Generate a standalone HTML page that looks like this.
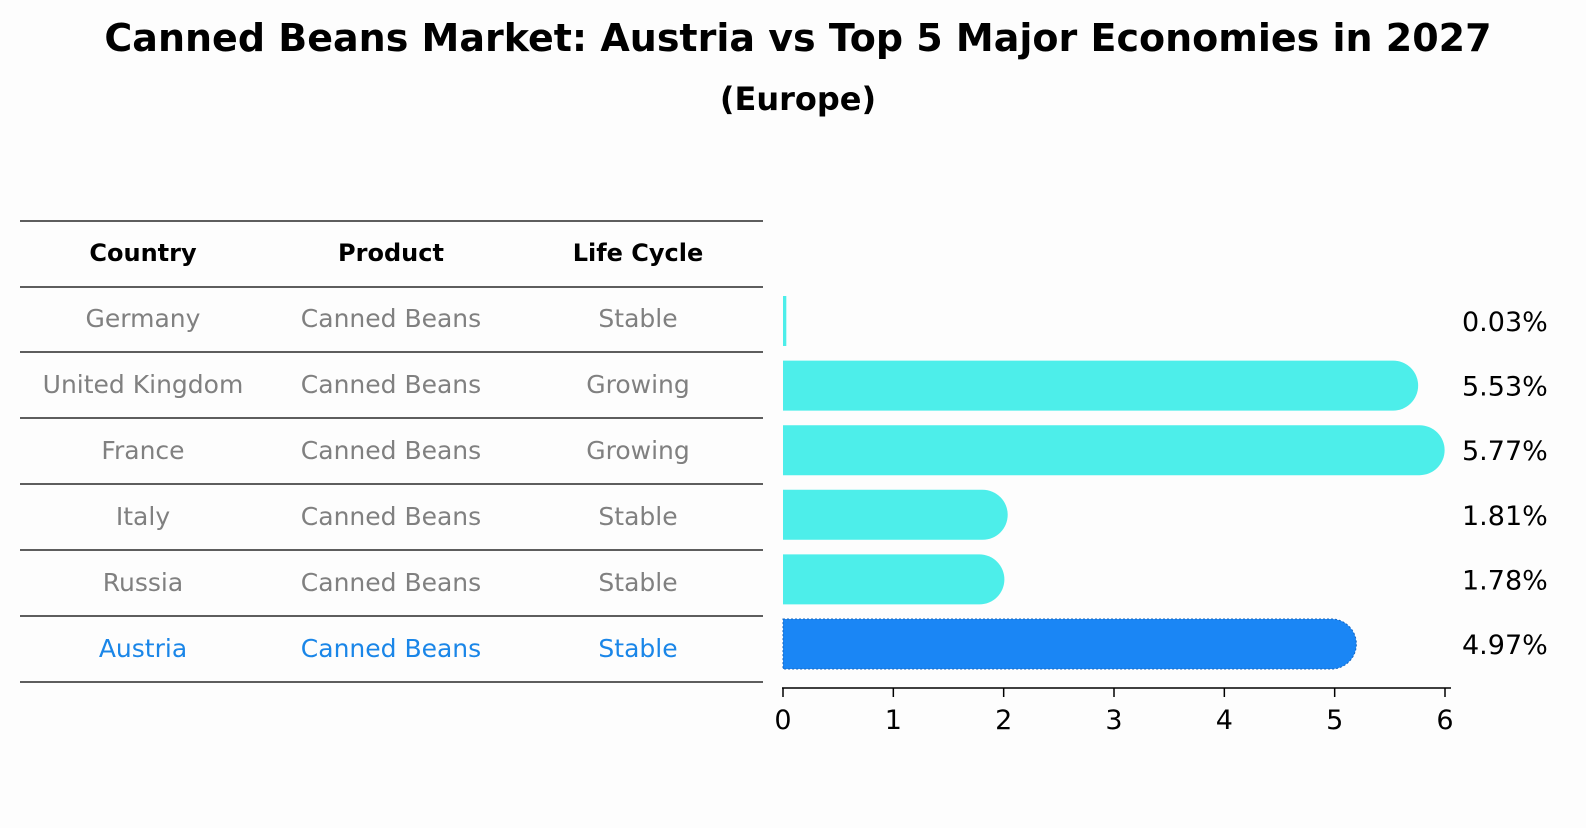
<!DOCTYPE html>
<html><head><meta charset="utf-8"><style>
body{margin:0;background:#fdfdfd;width:1586px;height:823px;overflow:hidden;font-family:"Liberation Sans","DejaVu Sans",sans-serif}
</style></head><body>
<svg width="1586" height="823" xmlns="http://www.w3.org/2000/svg" id="svg" font-family="DejaVu Sans, Liberation Sans, sans-serif">
<text x="798" y="51" text-anchor="middle" font-size="38" font-weight="bold">Canned Beans Market: Austria vs Top 5 Major Economies in 2027</text>
<text x="798" y="110" text-anchor="middle" font-size="32" font-weight="bold">(Europe)</text>
<g id="table"></g>
<g id="bars"></g>
</svg>
<script>
const countries=["Germany","United Kingdom","France","Italy","Russia","Austria"];
const products=["Canned Beans","Canned Beans","Canned Beans","Canned Beans","Canned Beans","Canned Beans"];
const lifeCycles=["Stable","Growing","Growing","Stable","Stable","Stable"];
const values=[0.03,5.53,5.77,1.81,1.78,4.97];
const ticks=[0,1,2,3,4,5,6];
const NS="http://www.w3.org/2000/svg";
const svg=document.getElementById('svg');
const tbl=document.getElementById('table');
const bars=document.getElementById('bars');
function mk(tag,attrs,parent,text){const e=document.createElementNS(NS,tag);for(const k in attrs)e.setAttribute(k,attrs[k]);if(text!==undefined)e.textContent=text;parent.appendChild(e);return e;}
const xs=v=>783+v*(1445-783)/6;
const rowY=i=>321+i*64.6;
const lineYs=[221,287,352,418,484,550,616,682];
lineYs.forEach(y=>{const l=mk('line',{x1:20,x2:763,y1:y,y2:y,stroke:'#000','stroke-width':1.2},tbl);

});
const colX=[143,391,638];
["Country","Product","Life Cycle"].forEach((h,j)=>{const t=mk('text',{x:colX[j],y:261,'text-anchor':'middle','font-size':24,'font-weight':'bold'},tbl,h);

});
countries.forEach((c,i)=>{
 const cy=[318,384,450,516,582,648][i]+9;
 const col=c==="Austria"?"#1a86e8":"#808080";
 [c,products[i],lifeCycles[i]].forEach((v,j)=>{const t=mk('text',{x:colX[j],y:cy,'text-anchor':'middle','font-size':25,fill:col},tbl,v);
 
 });
 const y=rowY(i),x0=xs(0),x1=xs(values[i]);
 let d;
 if(values[i]<0.1){d=`M${x0},${y-25}h${Math.max(x1-x0,3)}v50h${-Math.max(x1-x0,3)}z`;}
 else d=`M${x0},${y-25}H${x1}A25,25 0 0 1 ${x1},${y+25}H${x0}Z`;
 const isA=c==="Austria";
 const p=mk('path',{d:d,fill:isA?'#1a86f5':'#4deeea',stroke:isA?'#1565c0':'none','stroke-dasharray':isA?'2,2':'','stroke-width':1},bars);
 
 
 const t=mk('text',{x:1462,y:y+10,'font-size':27},bars,values[i].toFixed(2)+'%');
 
 
});
const ax=mk('line',{x1:782,x2:1451,y1:688,y2:688,stroke:'#000','stroke-width':1.5},bars);


ticks.forEach(v=>{const l=mk('line',{x1:xs(v),x2:xs(v),y1:688,y2:697,stroke:'#000','stroke-width':1.5},bars);


const t=mk('text',{x:xs(v),y:729,'text-anchor':'middle','font-size':27},bars,String(v));

});
</script>
</body></html>
